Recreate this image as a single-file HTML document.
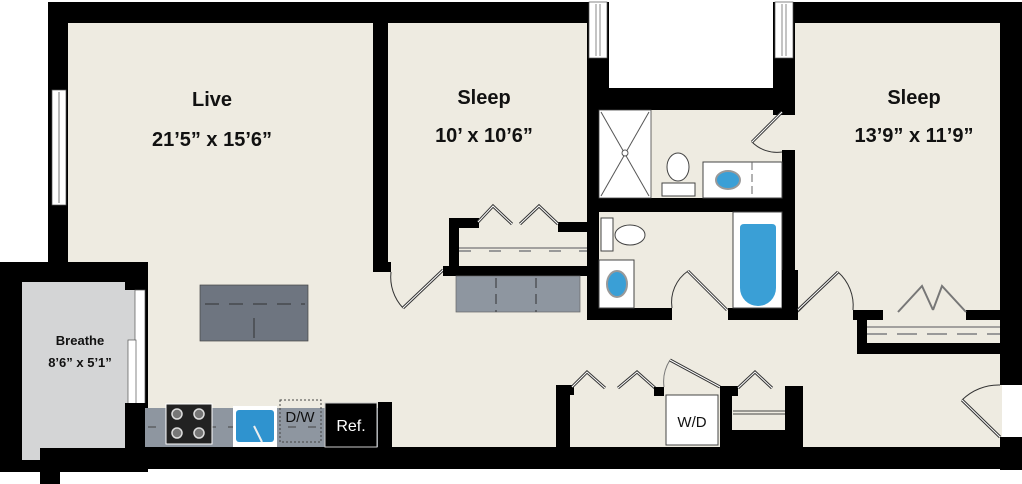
<!DOCTYPE html>
<html><head><meta charset="utf-8"><style>
html,body{margin:0;padding:0;background:#fff;width:1022px;height:484px;overflow:hidden}
svg{display:block}
text{font-family:"Liberation Sans",Arial,sans-serif;fill:#111}
.b{font-weight:bold}
.n{font-weight:normal}
</style></head><body>
<svg width="1022" height="484" viewBox="0 0 1022 484" xmlns="http://www.w3.org/2000/svg">
<polygon fill="#eeebe1" points="66,22 587,22 587,110 795,110 795,22 1002,22 1002,447 145,447 145,262 66,262"/>
<rect x="0" y="262" width="148" height="210" fill="#000"/>
<rect x="40" y="448" width="20" height="36" fill="#000"/>
<rect x="22" y="282" width="113" height="166" fill="#d4d5d6"/>
<rect x="22" y="448" width="18" height="12" fill="#d4d5d6"/>
<rect x="125" y="282" width="10" height="8" fill="#000"/>
<rect x="135" y="290" width="10" height="114" fill="#fff" stroke="#555" stroke-width="0.7"/>
<rect x="128" y="340" width="8" height="64" fill="#fff" stroke="#555" stroke-width="0.7"/>
<rect x="125" y="403" width="22" height="46" fill="#000"/>
<text class="b" x="80" y="345" font-size="13" text-anchor="middle">Breathe</text>
<text class="b" x="80" y="367" font-size="13" text-anchor="middle">8’6” x 5’1”</text>
<rect x="48" y="2" width="561" height="21" fill="#000"/>
<rect x="48" y="2" width="20" height="262" fill="#000"/>
<rect x="52" y="90" width="14" height="115" fill="#fff" stroke="#555" stroke-width="0.7"/>
<line x1="59" y1="92" x2="59" y2="203" stroke="#777"/>
<rect x="587" y="2" width="22" height="108" fill="#000"/>
<rect x="589" y="2" width="18" height="56" fill="#fff" stroke="#555" stroke-width="0.7"/>
<line x1="596" y1="4" x2="596" y2="56" stroke="#888"/><line x1="600" y1="4" x2="600" y2="56" stroke="#888"/>
<rect x="587" y="88" width="208" height="22" fill="#000"/>
<rect x="773" y="2" width="22" height="113" fill="#000"/>
<rect x="775" y="2" width="18" height="56" fill="#fff" stroke="#555" stroke-width="0.7"/>
<line x1="782" y1="4" x2="782" y2="56" stroke="#888"/><line x1="786" y1="4" x2="786" y2="56" stroke="#888"/>
<rect x="795" y="2" width="227" height="21" fill="#000"/>
<rect x="1000" y="2" width="22" height="383" fill="#000"/>
<rect x="1000" y="437" width="22" height="33" fill="#000"/>
<rect x="125" y="447" width="897" height="22" fill="#000"/>
<path d="M1000,385 A52,52 0 0 0 962,400" fill="none" stroke="#333"/>
<line x1="962" y1="400" x2="1000" y2="437" stroke="#333" stroke-width="3"/>
<line x1="962" y1="400" x2="1000" y2="437" stroke="#fff" stroke-width="1"/>
<rect x="373" y="22" width="15" height="250" fill="#000"/>
<rect x="373" y="262" width="18" height="10" fill="#000"/>
<path d="M391,272 A45,45 0 0 0 403,308" fill="none" stroke="#333"/>
<line x1="403" y1="308" x2="443" y2="270" stroke="#333" stroke-width="3"/>
<line x1="403" y1="308" x2="443" y2="270" stroke="#fff" stroke-width="1"/>
<rect x="449" y="218" width="10" height="58" fill="#000"/>
<rect x="449" y="218" width="30" height="10" fill="#000"/>
<rect x="558" y="222" width="32" height="10" fill="#000"/>
<rect x="443" y="266" width="147" height="10" fill="#000"/>
<line x1="459" y1="248" x2="587" y2="248" stroke="#888" stroke-width="1.5"/>
<line x1="459" y1="251" x2="587" y2="251" stroke="#999" stroke-width="2" stroke-dasharray="12,18"/>
<polyline points="478,222 493,206 512,224" fill="none" stroke="#333" stroke-width="3"/>
<polyline points="478,222 493,206 512,224" fill="none" stroke="#fff" stroke-width="1"/>
<polyline points="520,224 539,206 558,224" fill="none" stroke="#333" stroke-width="3"/>
<polyline points="520,224 539,206 558,224" fill="none" stroke="#fff" stroke-width="1"/>
<rect x="456" y="276" width="124" height="36" fill="#8e96a0" stroke="#666" stroke-width="0.7"/>
<line x1="496" y1="278" x2="496" y2="312" stroke="#333" stroke-dasharray="10,6"/>
<line x1="536" y1="278" x2="536" y2="312" stroke="#333" stroke-dasharray="10,6"/>
<rect x="587" y="110" width="12" height="210" fill="#000"/>
<rect x="587" y="198" width="208" height="14" fill="#000"/>
<rect x="782" y="150" width="13" height="170" fill="#000"/>
<rect x="587" y="308" width="85" height="12" fill="#000"/>
<rect x="728" y="308" width="67" height="12" fill="#000"/>
<rect x="599" y="110" width="52" height="88" fill="#fff" stroke="#444" stroke-width="0.8"/>
<line x1="601" y1="112" x2="649" y2="196" stroke="#555"/><line x1="649" y1="112" x2="601" y2="196" stroke="#555"/>
<circle cx="625" cy="153" r="3" fill="#fff" stroke="#555"/>
<ellipse cx="678" cy="167" rx="11" ry="14" fill="#fff" stroke="#444"/>
<rect x="662" y="183" width="33" height="13" fill="#fff" stroke="#444"/>
<rect x="703" y="162" width="79" height="36" fill="#fff" stroke="#444"/>
<line x1="752" y1="162" x2="752" y2="198" stroke="#666" stroke-dasharray="8,4"/>
<ellipse cx="728" cy="180" rx="12" ry="9" fill="#3a9fd6" stroke="#999" stroke-width="2"/>
<path d="M782,112 L752,142 A35,35 0 0 0 782,152" fill="none" stroke="#333"/>
<line x1="752" y1="142" x2="782" y2="112" stroke="#333" stroke-width="3"/>
<line x1="752" y1="142" x2="782" y2="112" stroke="#fff" stroke-width="1"/>
<rect x="601" y="218" width="12" height="33" fill="#fff" stroke="#444"/>
<ellipse cx="630" cy="235" rx="15" ry="10" fill="#fff" stroke="#444"/>
<rect x="599" y="260" width="35" height="48" fill="#fff" stroke="#444"/>
<ellipse cx="617" cy="284" rx="10" ry="13" fill="#3a9fd6" stroke="#999" stroke-width="2"/>
<rect x="733" y="212" width="49" height="96" fill="#fff" stroke="#444"/>
<path d="M740,228 Q740,224 744,224 L772,224 Q776,224 776,228 L776,288 A18,18 0 0 1 740,288 Z" fill="#3a9fd6"/>
<path d="M672,308 A38,38 0 0 1 688,271 L727,310" fill="none" stroke="#333"/>
<line x1="688" y1="271" x2="727" y2="310" stroke="#333" stroke-width="3"/>
<line x1="688" y1="271" x2="727" y2="310" stroke="#fff" stroke-width="1"/>
<rect x="782" y="270" width="16" height="50" fill="#000"/>
<path d="M798,312 L838,272 A45,45 0 0 1 853,310" fill="none" stroke="#333"/>
<line x1="798" y1="310" x2="838" y2="272" stroke="#333" stroke-width="3"/>
<line x1="798" y1="310" x2="838" y2="272" stroke="#fff" stroke-width="1"/>
<rect x="853" y="310" width="30" height="10" fill="#000"/>
<rect x="857" y="310" width="10" height="44" fill="#000"/>
<rect x="857" y="343" width="145" height="11" fill="#000"/>
<rect x="966" y="310" width="36" height="10" fill="#000"/>
<line x1="867" y1="327" x2="1000" y2="327" stroke="#888" stroke-width="1.5"/>
<line x1="867" y1="334" x2="1000" y2="334" stroke="#999" stroke-width="2" stroke-dasharray="20,10"/>
<polyline points="898,312 922,286 933,310" fill="none" stroke="#777" stroke-width="2"/>
<polyline points="966,312 942,286 933,310" fill="none" stroke="#777" stroke-width="2"/>
<rect x="556" y="385" width="14" height="62" fill="#000"/>
<rect x="556" y="385" width="18" height="10" fill="#000"/>
<polyline points="572,387 587,372 605,388" fill="none" stroke="#333" stroke-width="3"/>
<polyline points="572,387 587,372 605,388" fill="none" stroke="#fff" stroke-width="1"/>
<polyline points="618,388 637,372 655,388" fill="none" stroke="#333" stroke-width="3"/>
<polyline points="618,388 637,372 655,388" fill="none" stroke="#fff" stroke-width="1"/>
<rect x="654" y="387" width="10" height="9" fill="#000"/>
<path d="M664,387 A40,40 0 0 1 670,360" fill="none" stroke="#777"/>
<line x1="670" y1="360" x2="720" y2="387" stroke="#333" stroke-width="3"/>
<line x1="670" y1="360" x2="720" y2="387" stroke="#fff" stroke-width="1"/>
<rect x="666" y="395" width="52" height="50" fill="#fff" stroke="#444"/>
<text class="n" x="692" y="427" font-size="15" text-anchor="middle">W/D</text>
<rect x="720" y="386" width="12" height="61" fill="#000"/>
<rect x="720" y="386" width="18" height="10" fill="#000"/>
<rect x="732" y="430" width="70" height="17" fill="#000"/>
<rect x="785" y="386" width="18" height="61" fill="#000"/>
<line x1="733" y1="411" x2="785" y2="411" stroke="#444"/><line x1="733" y1="414" x2="785" y2="414" stroke="#444"/>
<polyline points="738,388 755,372 772,388" fill="none" stroke="#333" stroke-width="3"/>
<polyline points="738,388 755,372 772,388" fill="none" stroke="#fff" stroke-width="1"/>
<rect x="200" y="285" width="108" height="56" fill="#6e7580" stroke="#444" stroke-width="0.7"/>
<line x1="205" y1="304" x2="305" y2="304" stroke="#333" stroke-dasharray="14,10"/>
<line x1="254" y1="318" x2="254" y2="338" stroke="#333"/>
<rect x="145" y="408" width="238" height="39" fill="#8e96a0"/>
<line x1="148" y1="427" x2="380" y2="427" stroke="#444" stroke-dasharray="8,12"/>
<rect x="166" y="404" width="46" height="40" fill="#222" stroke="#fff"/>
<g fill="#777" stroke="#ddd" stroke-width="1.5">
<circle cx="177" cy="414" r="5"/><circle cx="199" cy="414" r="5"/><circle cx="177" cy="433" r="5"/><circle cx="199" cy="433" r="5"/></g>
<rect x="233" y="406" width="44" height="41" fill="#fff"/>
<rect x="236" y="410" width="38" height="32" rx="3" fill="#2f93cf"/>
<line x1="254" y1="426" x2="262" y2="442" stroke="#eee" stroke-width="2"/>
<rect x="280" y="400" width="41" height="42" fill="none" stroke="#444" stroke-dasharray="2,2"/>
<text class="n" x="300" y="422" font-size="15" text-anchor="middle">D/W</text>
<rect x="325" y="403" width="52" height="44" fill="#000" stroke="#ccc"/>
<text class="n" x="351" y="431" font-size="16" text-anchor="middle" style="fill:#fff">Ref.</text>
<rect x="378" y="402" width="14" height="46" fill="#000"/>
<text class="b" x="212" y="106" font-size="20" text-anchor="middle">Live</text>
<text class="b" x="212" y="146" font-size="20" text-anchor="middle">21’5” x 15’6”</text>
<text class="b" x="484" y="104" font-size="20" text-anchor="middle">Sleep</text>
<text class="b" x="484" y="142" font-size="20" text-anchor="middle">10’ x 10’6”</text>
<text class="b" x="914" y="104" font-size="20" text-anchor="middle">Sleep</text>
<text class="b" x="914" y="142" font-size="20" text-anchor="middle">13’9” x 11’9”</text>
</svg>
</body></html>
